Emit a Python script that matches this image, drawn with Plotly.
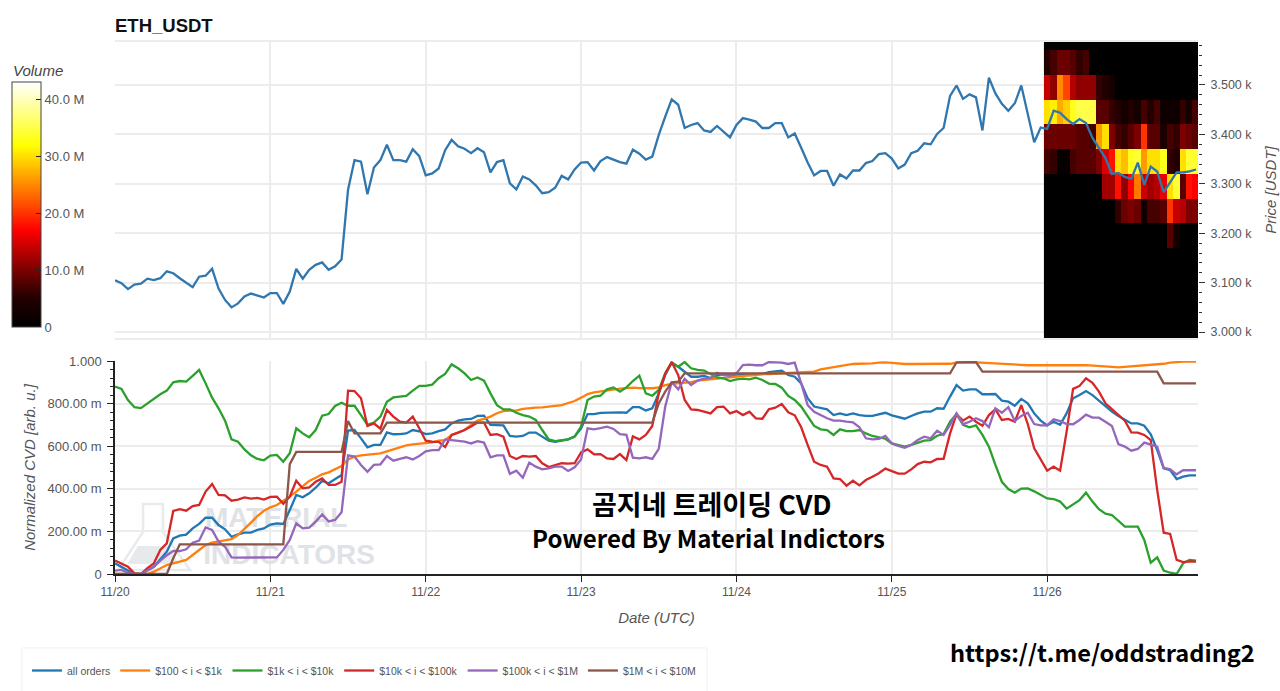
import numpy as np
import pandas as pd
import plotly.graph_objects as go

W, H = 1280, 691

price = [3105,3099,3087,3096,3098,3108,3105,3109,3123,3119,3109,3100,3091,3112,3114,3128,3088,3065,3050,3058,
3072,3078,3074,3070,3079,3079,3057,3082,3128,3108,3126,3136,3141,3126,3133,3147,3288,3348,3345,3279,
3333,3348,3379,3348,3348,3345,3370,3356,
3317,3321,3331,3368,3389,3376,3371,3362,3372,3364,3323,3344,3348,3301,3289,3315,3309,3297,3281,3283,
3292,3316,3309,3329,3343,3344,3327,3346,3354,3349,3344,3341,3369,3361,3349,3355,3399,3436,3471,3460,
3413,3419,3423,3408,3405,3417,3406,3394,
3419,3433,3430,3426,3413,3413,3423,3423,3394,3402,3373,3343,3317,3326,3326,3296,3319,3311,3327,3327,
3342,3346,3360,3362,3351,3331,3339,3362,3367,3382,3380,3401,3413,3478,3499,3472,3481,3475,3408,3515,
3483,3462,3448,3463,3499,3443,3384,3414,
3411,3448,3444,3431,3421,3431,3423,3393,3372,3352,3320,3322,3314,3310,3343,3298,3335,3325,3283,3302,
3323,3323,3325,3329]

cvd_all = [50,34,19,0,0,19,34,69,105,167,180,185,214,235,264,264,230,210,175,186,
194,194,207,214,232,238,235,300,371,360,379,405,437,426,444,465,673,676,637,595,
606,606,665,656,657,660,676,670,
657,660,671,679,707,720,726,728,742,743,700,698,698,648,645,648,664,664,645,626,
621,626,632,645,684,751,751,756,757,759,759,757,783,783,768,778,848,934,992,973,
950,926,926,930,920,934,937,933,936,936,939,939,
939,948,953,955,934,926,895,825,786,778,773,746,754,746,754,746,742,742,751,757,
745,736,729,742,754,762,762,778,776,833,887,861,867,867,844,844,845,814,809,790,
822,801,754,720,698,715,701,754,825,840,859,840,814,786,762,742,726,707,707,696,
656,582,496,488,446,457,463,463]

cvd_100_1k = [0,0,0,0,0,0,11,27,42,50,58,66,89,113,136,147,153,158,164,183,
210,241,272,297,313,324,344,363,387,410,437,452,468,477,491,507,538,551,557,560,
563,566,576,585,595,604,609,612,
613,618,626,629,652,665,676,700,720,728,739,755,765,767,767,775,779,781,782,784,
789,793,801,812,828,845,853,858,861,867,870,873,875,873,872,872,876,887,893,895,
900,901,908,911,917,919,922,926,929,931,932,934,
939,939,941,942,945,945,948,950,950,961,966,970,978,983,986,987,987,989,992,994,
991,987,986,986,986,986,986,986,986,987,992,994,995,994,992,991,989,986,986,983,
981,980,980,980,980,980,978,977,978,980,981,978,975,973,972,970,972,977,978,978,
983,983,987,992,995,997,997,997]

cvd_1k_10k = [880,869,817,783,779,801,820,844,861,900,906,903,930,958,895,828,778,720,632,621,
585,557,540,534,556,559,527,567,684,660,642,676,743,751,789,804,790,790,746,700,
711,739,809,829,833,836,861,883,
883,889,919,939,984,966,942,911,923,908,848,793,773,773,757,746,739,723,676,632,
624,628,632,645,692,817,833,837,867,876,856,876,906,931,848,837,864,942,992,973,
995,966,958,955,939,923,919,906,914,917,914,922,
911,894,892,875,836,817,786,739,695,679,676,653,679,671,671,676,660,648,642,635,
613,604,598,606,617,626,629,649,657,715,751,700,689,698,653,598,512,433,399,382,
401,402,388,371,355,352,340,307,329,347,382,340,304,283,277,250,222,222,222,160,
53,78,16,6,0,50,66,63]

cvd_10k_100k = [63,50,34,3,0,27,50,113,144,296,304,297,319,324,387,423,371,369,344,349,
360,354,357,349,362,363,330,363,438,402,407,433,449,418,418,433,861,859,825,695,
707,682,770,739,715,711,739,684,
626,621,620,596,653,664,676,692,711,711,653,657,645,554,540,554,551,554,520,502,
512,520,518,520,571,585,562,563,543,540,563,535,646,632,653,695,848,942,995,934,
817,773,770,761,754,783,786,754,765,746,762,731,
729,773,781,798,759,745,689,606,527,512,504,449,446,415,438,416,441,457,473,495,
484,471,471,491,516,527,524,540,541,660,750,720,739,715,696,746,773,723,728,715,
793,704,590,535,485,504,485,668,869,883,919,898,856,801,773,746,720,665,664,653,
629,394,194,188,66,56,59,58]

cvd_100k_1m = [16,19,6,0,0,19,34,63,88,108,108,116,147,157,219,207,152,128,78,77,
77,77,77,77,77,78,113,160,238,214,218,246,280,247,254,290,557,551,512,480,
512,515,554,532,540,548,538,554,
576,582,582,632,629,626,621,613,624,617,548,557,557,470,485,452,523,504,491,496,
504,504,484,501,538,684,679,685,692,681,657,653,546,543,548,540,588,786,901,867,
916,887,908,917,920,945,934,930,942,981,983,980,
980,995,995,992,986,992,895,793,762,746,731,720,720,715,712,689,637,632,634,648,
613,601,593,606,629,645,637,673,653,700,754,704,715,731,718,689,778,757,783,718,
742,757,704,698,698,726,718,704,703,723,748,734,734,715,695,610,598,579,587,617,
606,598,498,491,468,487,487,487]

cvd_1m_10m = [0,0,0,0,0,0,0,0,0,74,139,139,139,139,139,139,139,139,139,139,
139,139,139,139,139,139,139,516,573,573,573,573,573,573,573,573,718,660,660,660,
660,660,711,711,711,711,711,711,
711,711,711,711,711,711,711,711,711,711,711,711,711,711,711,711,711,711,711,711,
711,711,711,711,711,711,711,711,711,711,711,711,711,711,711,711,801,856,900,903,
942,942,942,942,942,942,942,942,942,942,942,942,
942,942,942,942,942,942,942,942,942,942,942,942,942,942,942,942,942,942,942,942,
942,942,942,942,942,942,942,942,942,942,994,995,995,995,950,950,950,950,950,950,
950,950,950,950,950,950,950,950,950,950,950,950,950,950,950,950,950,950,950,950,
950,950,895,895,895,895,895,895]

series_names = ["all orders", "$100 < i < $1k", "$1k < i < $10k", "$10k < i < $100k",
                "$100k < i < $1M", "$1M < i < $10M"]
series_colors = ["#1f77b4", "#ff7f0e", "#2ca02c", "#d62728", "#9467bd", "#8c564b"]

# Volume profile, millions, by price bin (bin centre in USD), one value per hour from hour 144
heat_bins = [2995, 3045, 3095, 3145, 3195, 3245, 3295, 3345, 3395, 3445, 3495, 3545, 3595]
heat_2995 = [0]*24
heat_3045 = [0]*24
heat_3095 = [0]*24
heat_3145 = [0]*24
heat_3195 = [0,0,0,0,0,0,0,0,0,0,0,0,0,0,0,0,0,0,0,8,3,0,0,0]
heat_3245 = [0,0,0,0,0,0,0,0,0,0,0,6,9,10,9,2,7,7,8,20,14,13,10,10]
heat_3295 = [0,0,0,0,0,0,0,0,0,12,12,18,11,17,24,14,12,13,16,30,34,8,18,17]
heat_3345 = [7,6,1,1,7,8,8,8,10,15,18,30,28,33,34,26,30,30,33,6,5,30,34,34]
heat_3395 = [9,9,9,9,9,8,8,7,26,30,10,7,6,8,10,20,8,8,4,7,6,10,9,8]
heat_3445 = [30,31,27,29,33,35,35,35,8,8,6,5,3,5,3,7,5,7,2,2,2,6,3,7]
heat_3495 = [14,11,25,21,13,11,11,11,6,5,3,0,0,0,0,0,0,0,0,0,0,0,0,0]
heat_3545 = [5,7,9,9,8,6,7,0,0,0,0,0,0,0,0,0,0,0,0,0,0,0,0,0]
heat_3595 = [0]*24

price_ticks = [3000, 3100, 3200, 3300, 3400, 3500]
price_labels = ["3.000 k", "3.100 k", "3.200 k", "3.300 k", "3.400 k", "3.500 k"]
cvd_ticks = [0, 0.2, 0.4, 0.6, 0.8, 1.0]
cvd_labels = ["0", "200.00 m", "400.00 m", "600.00 m", "800.00 m", "1.000"]
vol_ticks = [0, 10, 20, 30, 40]
vol_labels = ["0", "10.0 M", "20.0 M", "30.0 M", "40.0 M"]
day_ticks = ["2021-11-20", "2021-11-21", "2021-11-22", "2021-11-23", "2021-11-24", "2021-11-25", "2021-11-26"]
day_labels = ["11/20", "11/21", "11/22", "11/23", "11/24", "11/25", "11/26"]

times = pd.date_range("2021-11-20", periods=len(price), freq="h")
x_end = pd.Timestamp("2021-11-20") + pd.Timedelta(hours=167.3)

TXT = "#555555"
GRID = "#ececec"
FONT = "Liberation Sans"
L, R, T, B = 115, 1198, 0, 574
def fx(px): return (px - L) / (R - L)
def fy(py): return (B - py) / (B - T)

fig = go.Figure()

z = [heat_2995, heat_3045, heat_3095, heat_3145, heat_3195, heat_3245, heat_3295,
     heat_3345, heat_3395, heat_3445, heat_3495, heat_3545, heat_3595]
fig.add_trace(go.Heatmap(
    x=times[144:], y=heat_bins, z=z, xaxis="x", yaxis="y", zmin=0, zmax=43, hoverinfo="skip",
    colorscale=[[0, "#000000"], [0.12, "#240000"], [0.23, "#7a0000"], [0.395, "#ff0000"],
                [0.74, "#ffff00"], [1, "#ffffff"]],
    colorbar=dict(
        x=fx(12), xanchor="left", y=fy(82), yanchor="top",
        xpad=0, ypad=0, thickness=29, thicknessmode="pixels", len=245, lenmode="pixels",
        outlinecolor="#444444", outlinewidth=1,
        tickmode="array", tickvals=vol_ticks, ticktext=vol_labels,
        ticks="inside", ticklen=5, tickcolor="#222222",
        tickfont=dict(family=FONT, size=13, color=TXT),
    ),
))
fig.add_trace(go.Scatter(x=times, y=price, mode="lines", xaxis="x", yaxis="y", showlegend=False,
                         line=dict(color="#2f77ae", width=2.3), hoverinfo="skip"))

fig.add_trace(go.Scatter(
    x=[pd.Timestamp("2021-11-21 00:54"), pd.Timestamp("2021-11-21 02:54")],
    y=[0.254, 0.08], text=["MATERIAL", "INDICATORS"], mode="text", xaxis="x2", yaxis="y2",
    showlegend=False, hoverinfo="skip",
    textfont=dict(family="Liberation Sans", size=28, color="#dfe2e6", weight="bold"),
))

cvd_all_series = [cvd_all, cvd_100_1k, cvd_1k_10k, cvd_10k_100k, cvd_100k_1m, cvd_1m_10m]
for name, color, vals in zip(series_names, series_colors, cvd_all_series):
    fig.add_trace(go.Scatter(x=times, y=np.array(vals) / 1000, name=name, mode="lines", xaxis="x2", yaxis="y2",
                             line=dict(color=color, width=2.3), hoverinfo="skip"))

def poly_path(points):
    return "M " + " L ".join(f"{fx(a):.4f},{fy(b):.4f}" for a, b in points) + " Z"

shapes = [
    dict(type="path", xref="paper", yref="paper", layer="below",
         path=poly_path([(143, 504), (163, 504), (163, 532), (190, 570), (118, 570), (143, 532)]),
         line=dict(color="#e8eaec", width=2.5), fillcolor="rgba(0,0,0,0)"),
    dict(type="path", xref="paper", yref="paper", layer="below",
         path=poly_path([(138, 546), (168, 546), (179, 564), (127, 564)]),
         line=dict(color="#e6eaec", width=0), fillcolor="#e6eaec"),
    dict(type="path", xref="paper", yref="paper", layer="below",
         path=poly_path([(22, 648), (707, 648), (707, 700), (22, 700)]),
         line=dict(color="#f0f0f0", width=1), fillcolor="white"),
]

def note(text, px, py, size, family, color="#000000", anchor="center"):
    return dict(text=text, x=fx(px), y=fy(py), xref="paper", yref="paper", xanchor=anchor, yanchor="middle",
                showarrow=False, font=dict(family=family, size=size, color=color))

annotations = [
    note("<b>ETH_USDT</b>", 113, 26, 18.5, FONT, "#111111", "left"),
    note("<i>Volume</i>", 11, 71, 15, FONT, "#444444", "left"),
    note("<b>곰지네 트레이딩 CVD</b>", 712, 503, 27, "Noto Sans CJK KR"),
    note("<b>Powered By Material Indictors</b>", 708, 537, 24, "Noto Sans CJK KR"),
    note("<b>https://t.me/oddstrading2</b>", 1102, 652, 23.6, "Noto Sans CJK KR"),
]

fig.update_layout(
    width=W, height=H, margin=dict(l=L, r=W-R, t=T, b=H-B), autosize=False,
    paper_bgcolor="white", plot_bgcolor="white",
    font=dict(family=FONT, size=12, color=TXT),
    shapes=shapes, annotations=annotations,
    xaxis=dict(domain=[0, 1], anchor="y", range=[times[0], x_end], type="date", automargin=False,
               tickvals=day_ticks, ticktext=day_labels, showticklabels=False, ticks="",
               showgrid=True, gridcolor=GRID, gridwidth=1.5, zeroline=False,
               showline=True, linecolor=GRID, linewidth=1.5, mirror=True),
    yaxis=dict(domain=[fy(338), fy(42)], anchor="x", side="right", range=[2988, 3587], automargin=False,
               tickmode="array", tickvals=price_ticks, ticktext=price_labels,
               ticks="outside", ticklen=6, tickcolor="#333333", ticklabelstandoff=3,
               minor=dict(dtick=20, ticks="outside", ticklen=3, tickcolor="#333333", showgrid=False),
               showgrid=True, gridcolor=GRID, gridwidth=1.5, zeroline=False,
               tickfont=dict(family=FONT, size=12.5, color=TXT),
               title=dict(text="<i>Price [USDT]</i>", standoff=14, font=dict(family=FONT, size=15, color=TXT))),
    xaxis2=dict(domain=[0, 1], anchor="y2", range=[times[0], x_end], type="date", automargin=False,
                tickvals=day_ticks, ticktext=day_labels,
                ticks="outside", ticklen=6, tickcolor="#222222", tickfont=dict(family=FONT, size=12, color=TXT),
                showgrid=True, gridcolor=GRID, gridwidth=1.5, zeroline=False,
                showline=True, linecolor="#222222", linewidth=1.5,
                title=dict(text="<i>Date (UTC)</i>", standoff=14, font=dict(family=FONT, size=15, color=TXT))),
    yaxis2=dict(domain=[fy(574), fy(361)], anchor="x2", range=[0, 1], automargin=False,
                tickmode="array", tickvals=cvd_ticks, ticktext=cvd_labels,
                ticks="outside", ticklen=6, tickcolor="#222222", ticklabelstandoff=3,
                minor=dict(dtick=0.04, ticks="outside", ticklen=3, tickcolor="#222222", showgrid=False),
                showgrid=True, gridcolor=GRID, gridwidth=1.5, zeroline=False,
                showline=True, linecolor="#222222", linewidth=1.5,
                tickfont=dict(family=FONT, size=13, color=TXT),
                title=dict(text="<i>Normalized CVD [arb. u.]</i>", standoff=8, font=dict(family=FONT, size=15, color=TXT))),
    legend=dict(orientation="h", x=fx(27), xanchor="left", y=fy(656), yanchor="top",
                font=dict(family=FONT, size=10.5, color=TXT), borderwidth=0,
                bgcolor="rgba(0,0,0,0)", itemwidth=30, tracegroupgap=0),
)

for s in cvd_all_series:
    assert len(s) == 168
assert len(price) == 168

fig.write_html("out.html", config=dict(displayModeBar=False),
               post_script="document.body.style.margin='0';document.body.style.overflow='hidden';window.dispatchEvent(new Event('resize'));")
